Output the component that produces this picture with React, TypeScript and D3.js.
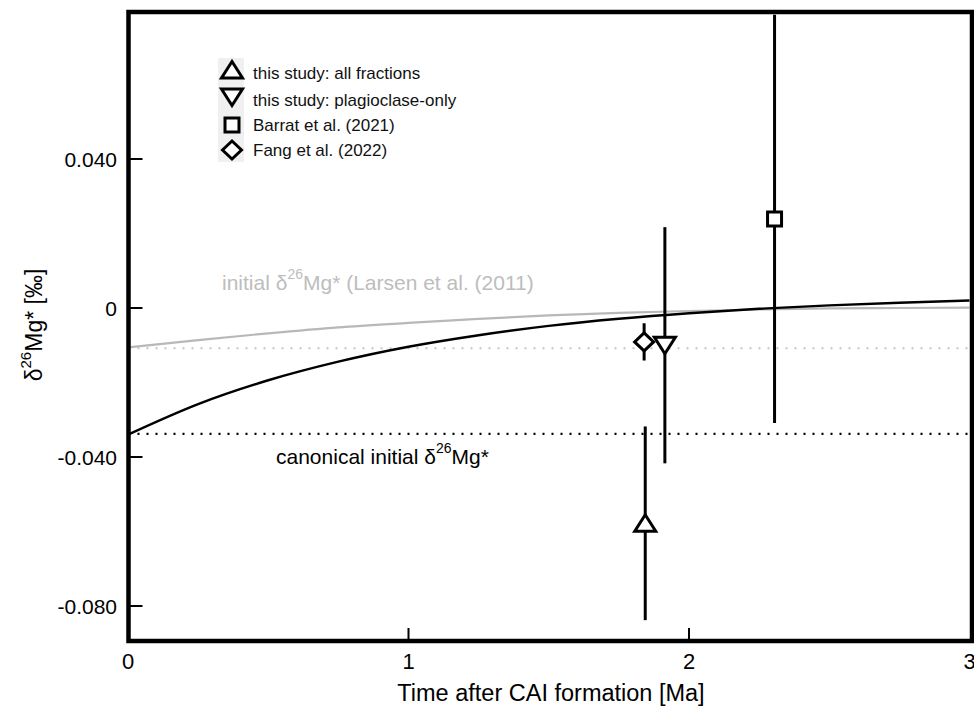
import React, { useEffect, useRef } from 'react';
import * as d3 from 'd3';

// model curves, every 0.25 Ma
const curveTime = [0, 0.25, 0.5, 0.75, 1, 1.25, 1.5, 1.75, 2, 2.25, 2.5, 2.75, 3];
const canonicalCurve = [-0.034, -0.0258, -0.0194, -0.0144, -0.0104, -0.0073, -0.0048, -0.0029, -0.0014, -0.0002, 0.0007, 0.0014, 0.002];
const larsenCurve = [-0.0106, -0.0086, -0.0068, -0.0052, -0.004, -0.0029, -0.002, -0.0013, -0.0008, -0.0004, -0.0001, 0.0, 0.0001];

// initial values as horizontal reference lines
const canonicalInitial = -0.0338;
const larsenInitial = -0.0108;

// samples
const seriesNames = [
  'this study: all fractions',
  'this study: plagioclase-only',
  'Barrat et al. (2021)',
  'Fang et al. (2022)',
];
const seriesShapes = ['triangleUp', 'triangleDown', 'square', 'diamond'];
const sampleTime = [1.844, 1.914, 2.305, 1.84];
const sampleValue = [-0.0578, -0.01, 0.0239, -0.0091];
const sampleError = [0.026, 0.0317, 0.0548, 0.005];

const xTicks = [0, 1, 2, 3];
const yTicks = [0.04, 0, -0.04, -0.08];
const yTickLabels = ['0.040', '0', '-0.040', '-0.080'];

const FONT = '"Liberation Sans", Arial, sans-serif';

const shapePath: Record<string, string> = {
  triangleUp: 'M0,-8.5L10.5,8L-10.5,8Z',
  triangleDown: 'M-10.5,-8L10.5,-8L0,8.5Z',
  square: 'M-7,-7H7V7H-7Z',
  diamond: 'M0,-9L9.5,0L0,9L-9.5,0Z',
};

const App: React.FC = () => {
  const svgRef = useRef<SVGSVGElement | null>(null);

  useEffect(() => {
    if (!svgRef.current) return;
    const width = 974;
    const height = 711;
    const svg = d3.select(svgRef.current);
    svg.selectAll('*').remove();
    svg.attr('width', width).attr('height', height);

    const left = 128.5;
    const right = 972;
    const top = 12;
    const bottom = 641;

    const x = d3.scaleLinear().domain([0, 3]).range([128, 969.5]);
    const y = d3.scaleLinear().domain([-0.08, 0.04]).range([606, 159]);

    svg.append('rect').attr('width', width).attr('height', height).attr('fill', '#fff');

    // dotted initial lines
    svg
      .append('line')
      .attr('x1', left)
      .attr('x2', right)
      .attr('y1', y(larsenInitial))
      .attr('y2', y(larsenInitial))
      .attr('stroke', '#c4c4c4')
      .attr('stroke-width', 2)
      .attr('stroke-dasharray', '2 7');
    svg
      .append('line')
      .attr('x1', left)
      .attr('x2', right)
      .attr('y1', y(canonicalInitial))
      .attr('y2', y(canonicalInitial))
      .attr('stroke', '#000')
      .attr('stroke-width', 2.2)
      .attr('stroke-dasharray', '2 7');

    const line = d3
      .line<number>()
      .curve(d3.curveMonotoneX)
      .x((_, i) => x(curveTime[i]))
      .y((d) => y(d));

    svg
      .append('path')
      .attr('d', line(larsenCurve) || '')
      .attr('fill', 'none')
      .attr('stroke', '#b8b8b8')
      .attr('stroke-width', 2.2);
    svg
      .append('path')
      .attr('d', line(canonicalCurve) || '')
      .attr('fill', 'none')
      .attr('stroke', '#000')
      .attr('stroke-width', 2.4);

    // error bars
    const idx = d3.range(seriesNames.length);
    svg
      .selectAll('.err')
      .data(idx)
      .enter()
      .append('line')
      .attr('class', 'err')
      .attr('x1', (i) => x(sampleTime[i]))
      .attr('x2', (i) => x(sampleTime[i]))
      .attr('y1', (i) => Math.max(top, y(sampleValue[i] + sampleError[i])))
      .attr('y2', (i) => y(sampleValue[i] - sampleError[i]))
      .attr('stroke', '#000')
      .attr('stroke-width', 3);

    // markers
    svg
      .selectAll('.marker')
      .data(idx)
      .enter()
      .append('path')
      .attr('class', 'marker')
      .attr('d', (i) => shapePath[seriesShapes[i]])
      .attr('transform', (i) => `translate(${x(sampleTime[i])},${y(sampleValue[i])})`)
      .attr('fill', '#fff')
      .attr('stroke', '#000')
      .attr('stroke-width', 3)
      .attr('stroke-linejoin', 'miter');

    // annotations
    const larsenText = svg
      .append('text')
      .attr('x', 222)
      .attr('y', 290)
      .attr('font-family', FONT)
      .attr('font-size', 21)
      .attr('fill', '#bdbdbd');
    larsenText.append('tspan').text('initial δ');
    larsenText.append('tspan').attr('font-size', 14).attr('dy', -11).text('26');
    larsenText.append('tspan').attr('dy', 11).text('Mg* (Larsen et al. (2011)');

    const canonText = svg
      .append('text')
      .attr('x', 276)
      .attr('y', 464)
      .attr('font-family', FONT)
      .attr('font-size', 21)
      .attr('fill', '#000');
    canonText.append('tspan').text('canonical initial δ');
    canonText.append('tspan').attr('font-size', 14).attr('dy', -11).text('26');
    canonText.append('tspan').attr('dy', 11).text('Mg*');

    // legend
    const legendRows = [70, 97, 125, 150];
    svg
      .append('rect')
      .attr('x', 218)
      .attr('y', 58)
      .attr('width', 26)
      .attr('height', 104)
      .attr('fill', '#f0f0f0');
    const legend = svg
      .selectAll('.legend')
      .data(idx)
      .enter()
      .append('g')
      .attr('class', 'legend')
      .attr('transform', (i) => `translate(232,${legendRows[i]})`);
    legend
      .append('path')
      .attr('d', (i) => shapePath[seriesShapes[i]])
      .attr('fill', '#fff')
      .attr('stroke', '#000')
      .attr('stroke-width', 3);
    legend
      .append('text')
      .attr('x', 21)
      .attr('y', (i) => (i < 2 ? 9 : 6))
      .attr('font-family', FONT)
      .attr('font-size', 17)
      .attr('fill', '#111')
      .text((i) => seriesNames[i]);

    // ticks (inward)
    svg
      .selectAll('.xtick')
      .data(xTicks.slice(1, 3))
      .enter()
      .append('line')
      .attr('x1', (d) => x(d))
      .attr('x2', (d) => x(d))
      .attr('y1', bottom)
      .attr('y2', bottom - 13)
      .attr('stroke', '#000')
      .attr('stroke-width', 2);
    svg
      .selectAll('.ytick')
      .data(yTicks)
      .enter()
      .append('line')
      .attr('x1', left)
      .attr('x2', left + 14)
      .attr('y1', (d) => y(d))
      .attr('y2', (d) => y(d))
      .attr('stroke', '#000')
      .attr('stroke-width', 2);

    // frame
    svg
      .append('rect')
      .attr('x', left)
      .attr('y', top)
      .attr('width', right - left)
      .attr('height', bottom - top)
      .attr('fill', 'none')
      .attr('stroke', '#000')
      .attr('stroke-width', 4.5);

    // tick labels
    svg
      .selectAll('.xlabel')
      .data(xTicks)
      .enter()
      .append('text')
      .attr('x', (d) => x(d))
      .attr('y', 669)
      .attr('text-anchor', 'middle')
      .attr('font-family', FONT)
      .attr('font-size', 22)
      .attr('fill', '#000')
      .text((d) => String(d));
    svg
      .selectAll('.ylabel')
      .data(yTicks)
      .enter()
      .append('text')
      .attr('x', 117)
      .attr('y', (d) => y(d) + 7.5)
      .attr('text-anchor', 'end')
      .attr('font-family', FONT)
      .attr('font-size', 21)
      .attr('fill', '#000')
      .text((_, i) => yTickLabels[i]);

    // axis titles
    svg
      .append('text')
      .attr('x', 551)
      .attr('y', 701)
      .attr('text-anchor', 'middle')
      .attr('font-family', FONT)
      .attr('font-size', 23.5)
      .attr('fill', '#000')
      .text('Time after CAI formation [Ma]');

    const yTitle = svg
      .append('text')
      .attr('transform', 'translate(42,325) rotate(-90)')
      .attr('text-anchor', 'middle')
      .attr('font-family', FONT)
      .attr('font-size', 23)
      .attr('fill', '#000');
    yTitle.append('tspan').text('δ');
    yTitle.append('tspan').attr('font-size', 15).attr('dy', -11).text('26');
    yTitle.append('tspan').attr('dy', 11).text('Mg* [‰]');
  }, []);

  return <svg ref={svgRef} style={{ position: 'absolute', left: 0, top: 0 }}></svg>;
};

export default App;
